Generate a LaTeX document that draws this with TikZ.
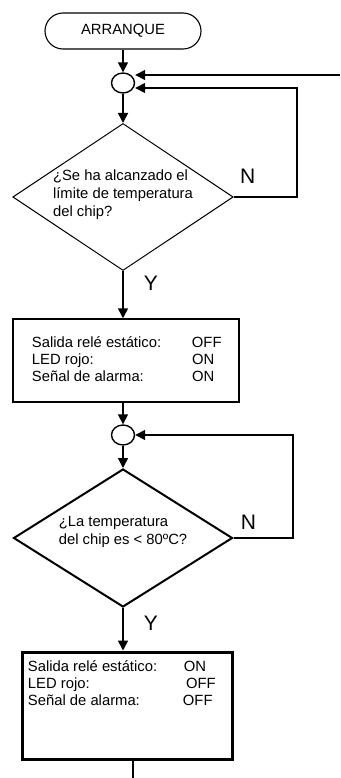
\documentclass[tikz,border=0pt]{standalone}
\usepackage{fontspec}
\setmainfont{Liberation Sans}
\usetikzlibrary{arrows.meta,shapes.geometric}

\begin{document}
\begin{tikzpicture}[
	x=1bp,y=-1bp,
	>={Triangle[length=10bp,width=10bp]},
	line width=1.6bp,
	line join=miter,
	every node/.style={font=\fontsize{14.8bp}{18bp}\selectfont},
	terminal/.style={draw,line width=1.1bp,rounded corners=18bp,minimum width=156bp,minimum height=36bp},
	joint/.style={draw,ellipse,line width=1.4bp,minimum width=23bp,minimum height=20bp,inner sep=0},
	question/.style={draw,diamond,align=left,inner sep=0,shape aspect=1.5},
	answer/.style={font=\fontsize{21bp}{24bp}\selectfont,inner sep=0}
	]
	\path[use as bounding box] (0,0) rectangle (340,778);
	% first loop
	\node[terminal] (start) at (123,31) {ARRANQUE};
	\node[joint] (join1) at (123,83) {};
	\node[question,line width=1bp,minimum width=219bp,minimum height=147bp,text depth=7bp] (chip1) at (123,197) {¿Se ha alcanzado el\\límite de temperatura\\del chip?};
	\node[draw,line width=1.5bp,inner sep=0] (alarm) at (126,360.5) {\parbox[c][83bp][t]{226bp}{\baselineskip=17bp\relax\leftskip=19bp\relax
		\rule{0pt}{28.3bp}\makebox[160bp][l]{Salida relé estático:}OFF\\
		\makebox[160bp][l]{LED rojo:}ON\\
		\makebox[160bp][l]{Señal de alarma:}ON}};
	\coordinate (feed) at (340,75);
	\coordinate (loop1) at (297,88);
	\draw[->] (start) -- (join1);
	\draw[->] (join1) -- (chip1);
	\draw[->] (feed) -- (feed -| join1.east);
	\draw[->] (chip1.east) -| (loop1) node[pos=0.11,above=12.5bp,answer] {N} -- (loop1 -| join1.east);
	\draw[->] (chip1.south) -- (chip1.south |- alarm.north) node[pos=0.25,right=20bp,answer] {Y};
	% second loop
	\node[joint] (join2) at (123,435) {};
	\node[question,line width=2bp,minimum width=219bp,minimum height=138bp,text depth=15bp] (chip2) at (123,538) {¿La temperatura\\del chip es < 80ºC?};
	\node[draw,line width=3bp,inner sep=0] (result) at (127.5,705.5) {\parbox[c][107bp][t]{209bp}{\baselineskip=17bp\relax\leftskip=5bp\relax
		\rule{0pt}{19.5bp}\makebox[156bp][l]{Salida relé estático:}ON\\
		\makebox[158bp][l]{LED rojo:}OFF\\
		\makebox[155bp][l]{Señal de alarma:}OFF}};
	\coordinate (loop2) at (293,435);
	\coordinate (out) at (133,778);
	\draw[->] (alarm.south -| join2) -- (join2);
	\draw[->] (join2) -- (chip2);
	\draw[->] (chip2.east) -| (loop2) node[pos=0.125,above=7.5bp,answer] {N} -- (join2.east);
	\draw[->] (chip2.south) -- (chip2.south |- result.north) node[pos=0.36,right=20bp,answer] {Y};
	\draw (out |- result.south) -- (out);
\end{tikzpicture}
\end{document}
